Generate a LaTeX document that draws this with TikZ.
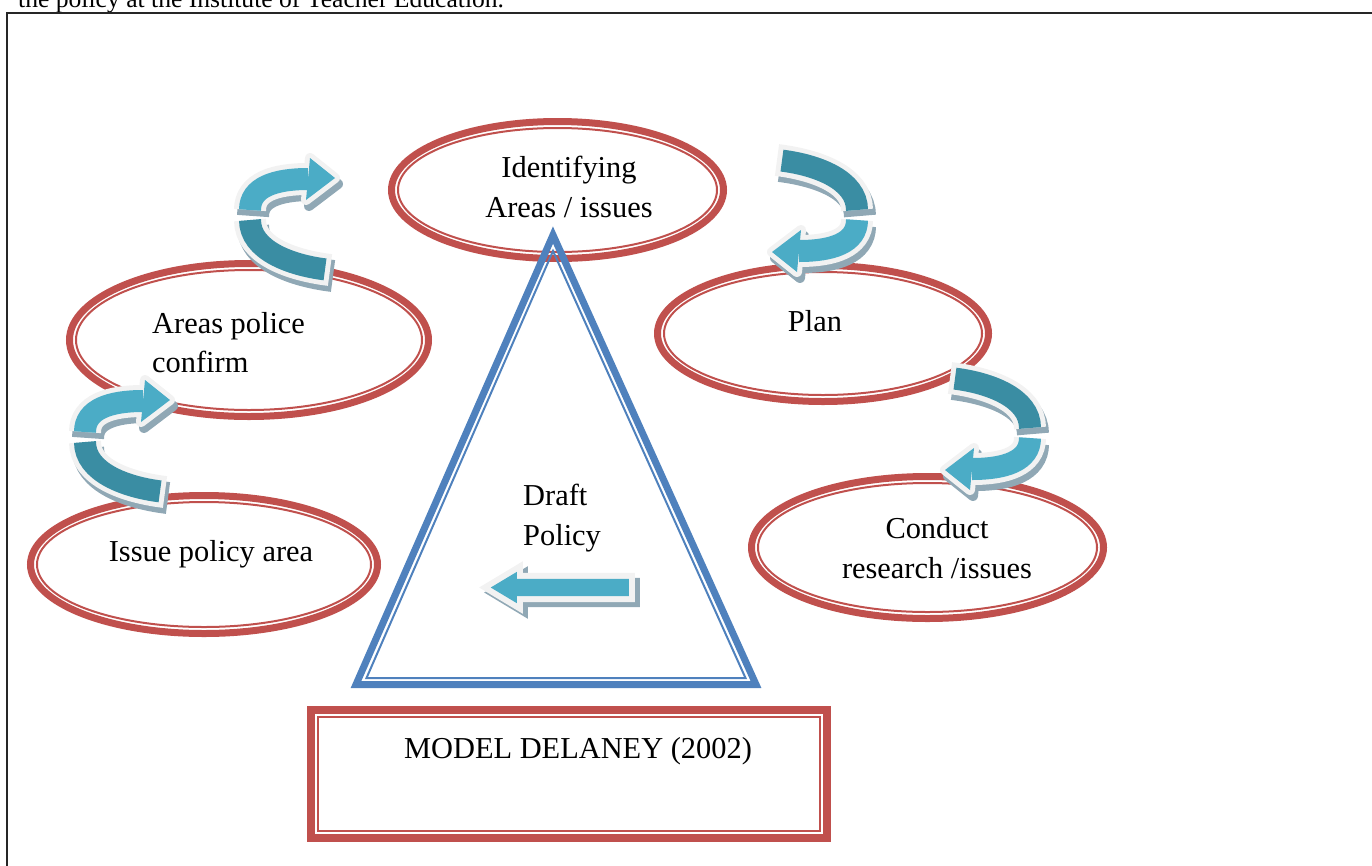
\documentclass[tikz,border=0pt]{standalone}
\usepackage{fontspec}
\setmainfont{Liberation Serif}
\usetikzlibrary{shapes.geometric,shapes.arrows,shadows}

\definecolor{ringred}{HTML}{C0504D}
\definecolor{triblue}{HTML}{4F81BD}
\definecolor{tealfront}{HTML}{4BACC6}
\definecolor{tealback}{HTML}{3A8DA3}
\definecolor{arrowrim}{HTML}{F2F2F2}
\definecolor{arrowshade}{HTML}{90A8B5}

% u-turn arrow, drawn round its leftmost point
\newcommand\backband{(80,55) .. controls (40,50) and (0,35) .. (0,5)}
\newcommand\frontband{(0,-5) .. controls (0,-28) and (25,-36) .. (58,-36)}
\newcommand\headtip{(56,-15) -- (85,-37) -- (60,-57) -- cycle}

\tikzset{
  ring/.style={ellipse, draw=ringred, line width=7pt, inner sep=0pt},
  innerring/.style={draw=ringred, line width=2pt},
  txt/.style={font=\fontsize{30.4}{40}\selectfont, inner sep=0pt},
  flatarrow/.style={single arrow, shape border rotate=180, inner sep=0pt,
    inner ysep=8.5pt, minimum width=31pt, single arrow head extend=7pt,
    single arrow tip angle=62, fill=tealfront,
    drop shadow={shadow xshift=5pt, shadow yshift=-5pt, fill=arrowshade,
      draw=arrowshade, line width=12pt, opacity=1},
    preaction={draw=arrowrim, line width=12pt}}
}

\begin{document}
\begin{tikzpicture}[x=1pt, y=-1pt]
\useasboundingbox (0,0) rectangle (1372,865);

\node[anchor=base west, inner sep=0pt, font=\fontsize{25.6}{30}\selectfont] (caption) at (18,7)
  {the policy at the Institute of Teacher Education.};
\draw[line width=2pt, black!85] (7,12.5) rectangle (1385,880);

% the five stages
\node[ring, minimum width=332, minimum height=137] (identify) at (557.5,190) {};
\node[ring, minimum width=359, minimum height=153] (confirm) at (249,340) {};
\node[ring, minimum width=331, minimum height=136] (plan) at (823,333.5) {};
\node[ring, minimum width=347, minimum height=138] (issue) at (204,564.5) {};
\node[ring, minimum width=352, minimum height=142] (conduct) at (927.5,547.5) {};
\draw[innerring] (identify.center) ellipse [x radius=159.5, y radius=62];
\draw[innerring] (confirm.center) ellipse [x radius=173, y radius=70];
\draw[innerring] (plan.center) ellipse [x radius=159, y radius=61.5];
\draw[innerring] (issue.center) ellipse [x radius=167, y radius=62.5];
\draw[innerring] (conduct.center) ellipse [x radius=169.5, y radius=64.5];

% draft triangle
\coordinate (apex) at (553,235);
\coordinate (baseleft) at (356,684.5);
\coordinate (baseright) at (756,684.5);
\draw[triblue, line width=7pt] (apex) -- (baseleft) -- (baseright) -- cycle;
\draw[triblue, line width=2pt] (553,251) -- (366.5,678) -- (745.5,678) -- cycle;

% title box
\node[draw=ringred, line width=8pt, minimum width=516, minimum height=128] (model) at (569,774) {};
\draw[ringred, line width=2pt] ([shift={(11,11)}]model.north west) rectangle ([shift={(-11,-11)}]model.south east);

\node[txt, anchor=base] (identify1) at (569,177) {Identifying};
\node[txt, anchor=base] (identify2) at (569,217) {Areas / issues};
\node[txt, anchor=base west] (confirm1) at (152,333) {Areas police};
\node[txt, anchor=base west] (confirm2) at (152,372) {confirm};
\node[txt, anchor=base] (plan1) at (815,331) {Plan};
\node[txt, anchor=base] (issue1) at (211,561) {Issue policy area};
\node[txt, anchor=base] (conduct1) at (937,538) {Conduct};
\node[txt, anchor=base] (conduct2) at (937,578) {research /issues};
\node[txt, anchor=base west] (draft1) at (523,505) {Draft};
\node[txt, anchor=base west] (draft2) at (523,545) {Policy};
\node[txt, anchor=base] (title) at (578,758) {MODEL DELANEY (2002)};

\node[flatarrow, minimum height=138] (back) at (567,587.5) {};

% u-turn arrows
\foreach \ax/\ay/\turn in {250/215/0, 85/437/0, 857/215/180, 1030/433/180}{
  \begin{scope}[shift={(\ax+3,\ay+6)}, rotate=\turn, arrowshade]
    \draw[line width=32pt] \backband;
    \draw[line width=32pt] \frontband;
    \filldraw[line width=10pt, line join=round] \headtip;
  \end{scope}
  \begin{scope}[shift={(\ax,\ay)}, rotate=\turn]
    \draw[arrowrim, line width=32pt] \backband;
    \draw[tealback, line width=22pt, shorten <=5pt] \backband;
    \draw[arrowrim, line width=32pt] \frontband;
    \filldraw[arrowrim, line width=10pt, line join=round] \headtip;
    \draw[tealfront, line width=22pt] \frontband;
    \fill[tealfront] \headtip;
  \end{scope}
}
\end{tikzpicture}
\end{document}
